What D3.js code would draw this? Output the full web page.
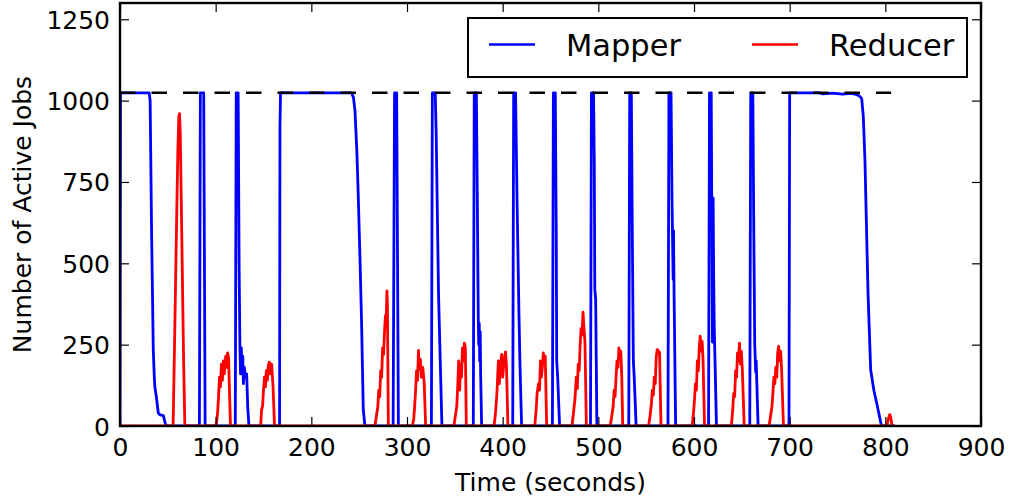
<!DOCTYPE html>
<html>
<head>
<meta charset="utf-8">
<script src="https://cdn.jsdelivr.net/npm/d3@7"></script>
<style>
  body { margin: 0; background: #fff; }
  svg { display: block; font-family: "DejaVu Sans", sans-serif; }
</style>
</head>
<body>
<svg id="chart" width="1013" height="502"></svg>
<script>
// ------------------------------------------------
// data: [time (s), active jobs]
// ------------------------------------------------
var mapper = [
  [0,0],[0.5,1024],[30.5,1024],[31.5,1000],[33,600],[34.8,233],[36,140],[36.6,116],[38,90],[40,40],[42,34],[45.3,32],[48,0],
  [83,0],[84,1024],[87.5,1024],[89,0],
  [120.5,0],[121.5,1024],[123.5,1024],[124.5,500],[125.3,255],[126,160],[126.8,240],[127.5,170],[128.3,215],[129,130],[130,180],[131,150],[132.4,160],[133.5,60],[134.8,0],
  [166.8,0],[167.2,920],[167.8,1024],[242,1024],[244,1010],[245.6,970],[247.5,850],[249,714],[251,500],[252.6,305],[254.3,50],[256,0],
  [285.5,0],[287,1024],[289.2,1024],[291,0],
  [325.5,0],[326.5,1024],[329.5,1024],[330.5,900],[333,400],[336.5,0],
  [369.3,0],[370.3,1024],[372.5,1024],[373.5,700],[374.5,330],[375,250],[375.5,315],[376,200],[376.5,290],[377,160],[378,0],
  [410.5,0],[411.5,1024],[413.5,1024],[415,700],[417,350],[418,200],[419.8,0],
  [452,0],[453,1024],[455,1024],[456,600],[456.5,200],[457.5,150],[459.5,0],
  [491.8,0],[492.8,1024],[495,1024],[495.8,800],[496.3,420],[497.2,390],[498.5,0],
  [531.8,0],[532.8,1024],[534.5,1024],[535.5,600],[536.6,200],[537.5,150],[539.5,0],
  [572.8,0],[573.8,1024],[576,1024],[577,700],[578.2,450],[578.6,600],[579.2,400],[580.8,0],
  [615.2,0],[616.2,1024],[618,1024],[619.3,258],[620,700],[620.6,454],[621.2,300],[623.5,0],
  [658.3,0],[659.3,1024],[661.5,1024],[662.5,600],[663.5,250],[664.5,166],[665,200],[667,0],
  [699.3,0],[700,1024],[730,1024],[735,1021],[745,1023],[755,1020],[765,1022],[770,1018],[773,1014],[775.3,1006],[777,950],[778.7,816],[781.9,408],[784.7,172],[788,110],[791,70],[796,0],
  [810,0]
];

var reducer = [
  [0,0],
  [55.5,0],[57,250],[59,600],[60.5,850],[61.5,950],[62.2,960],[63,900],[64.5,600],[66.5,200],[67.8,0],
  [100.5,0],[102,40],[103,90],[104,150],[105,120],[106,190],[107,140],[108,200],[109,160],[110.5,215],[111.3,180],[112.5,225],[113.5,210],[114.5,100],[115.5,0],
  [147,0],[148,50],[149,60],[150,110],[151,150],[152,120],[153,170],[154,140],[155,185],[156,196],[157,160],[158.5,190],[160,120],[161.5,0],
  [266.5,0],[268,30],[269.5,60],[270.5,110],[271.5,90],[272.5,170],[273.5,150],[274.5,240],[275.5,220],[276.5,290],[277.5,340],[278.3,330],[279,415],[279.5,380],[280.5,0],
  [305.5,0],[307,20],[308,60],[309,110],[310,170],[311,140],[312,232],[313,175],[314,205],[315,150],[316.5,180],[318,130],[319.5,0],
  [349,0],[350.5,30],[352,60],[353,120],[354,200],[355,110],[356,190],[357,150],[358,240],[359,200],[360,255],[361,240],[362,0],
  [391,0],[392.5,40],[394,100],[395.5,200],[396.5,130],[397.5,180],[399,220],[400,150],[401.5,200],[403,228],[404,180],[405.5,0],
  [433.5,0],[435,50],[436,100],[437.5,130],[438.5,110],[439.5,200],[440.5,150],[441.5,180],[442.5,225],[443.5,195],[444.5,215],[446,0],
  [472.5,0],[474,40],[475.5,80],[477,150],[478,115],[479,190],[480,170],[481,250],[482,300],[483,280],[484,350],[485,300],[486,260],[487.5,0],
  [512.5,0],[514,30],[515.5,60],[516.5,110],[517.5,90],[518.5,150],[519.5,200],[520.5,180],[521.5,240],[522.5,210],[523.5,230],[524.5,150],[525.5,0],
  [552.5,0],[554,30],[555.5,70],[556.5,110],[557.5,95],[558.5,150],[559.5,130],[560.5,210],[561.5,235],[563,230],[564,225],[565.5,0],
  [598,0],[599.5,40],[600.5,80],[601.5,130],[602.5,110],[603.5,200],[604.5,170],[605.5,240],[606.5,276],[607.5,230],[608.5,260],[609.5,200],[611,0],
  [639,0],[640.5,50],[641.5,100],[642.5,90],[643.5,170],[644.5,150],[645.5,225],[646.5,200],[647.5,255],[648.5,190],[649.5,230],[650.5,175],[652.5,0],
  [678.5,0],[680,30],[681.5,60],[682.5,100],[683.5,150],[684.5,130],[685.5,180],[686.5,150],[687.5,225],[688.5,245],[689.5,200],[690.5,230],[691.5,180],[693.5,0],
  [801.5,0],[803,20],[804.5,35],[805.5,30],[807,0],
  [810,0]
];

var capacity = 1024;      // dashed reference level
var capacityEnd = 806;    // time where the dashed line stops

var seriesNames = ["Mapper", "Reducer"];
var seriesColors = ["#0000ff", "#ff0000"];
var xTicks = [0, 100, 200, 300, 400, 500, 600, 700, 800, 900];
var yTicks = [0, 250, 500, 750, 1000, 1250];

// ------------------------------------------------
// layout
// ------------------------------------------------
var L = 120, R = 981, T = 3, B = 426;
var svg = d3.select("#chart");

var x = d3.scaleLinear().domain([0, 900]).range([L, R]);
var y = d3.scaleLinear().domain([0, 1300]).range([B, T]);

svg.append("defs").append("clipPath").attr("id", "plotClip")
  .append("rect").attr("x", L).attr("y", T).attr("width", R - L).attr("height", B - T);

var line = d3.line().x(function(d){ return x(d[0]); }).y(function(d){ return y(d[1]); });

var plot = svg.append("g").attr("clip-path", "url(#plotClip)");

[mapper, reducer].forEach(function(s, i){
  plot.append("path")
    .datum(s)
    .attr("d", line)
    .attr("fill", "none")
    .attr("stroke", seriesColors[i])
    .attr("stroke-width", 2.8)
    .attr("stroke-linejoin", "round");
});

// dashed capacity line
plot.append("path")
  .datum([[0, capacity], [capacityEnd, capacity]])
  .attr("d", line)
  .attr("fill", "none")
  .attr("stroke", "#000")
  .attr("stroke-width", 2.5)
  .attr("stroke-dasharray", "15.5,16");

// ------------------------------------------------
// axes (ticks point inward on all four sides)
// ------------------------------------------------
function styleAxis(g){
  g.select(".domain").remove();
  g.selectAll(".tick line").attr("stroke", "#000").attr("stroke-width", 1.2);
  g.selectAll(".tick text").attr("fill", "#000").attr("font-size", 25)
    .attr("font-family", "DejaVu Sans, sans-serif");
}

svg.append("g").attr("transform", "translate(0," + B + ")")
  .call(d3.axisBottom(x).tickValues(xTicks).tickSize(-9).tickPadding(12).tickFormat(d3.format("d")))
  .call(styleAxis)
  .selectAll(".tick text").attr("dy", "0.71em").attr("y", 12);

svg.append("g").attr("transform", "translate(0," + T + ")")
  .call(d3.axisTop(x).tickValues(xTicks).tickSize(-9).tickFormat(""))
  .call(styleAxis);

svg.append("g").attr("transform", "translate(" + L + ",0)")
  .call(d3.axisLeft(y).tickValues(yTicks).tickSize(-9).tickPadding(10).tickFormat(d3.format("d")))
  .call(styleAxis)
  .selectAll(".tick text").attr("dy", "0.36em");

svg.append("g").attr("transform", "translate(" + R + ",0)")
  .call(d3.axisRight(y).tickValues(yTicks).tickSize(-9).tickFormat(""))
  .call(styleAxis);

// frame
svg.append("rect")
  .attr("x", L).attr("y", T).attr("width", R - L).attr("height", B - T)
  .attr("fill", "none").attr("stroke", "#000").attr("stroke-width", 2.4);

// axis titles
svg.append("text")
  .attr("x", (L + R) / 2).attr("y", 491)
  .attr("text-anchor", "middle").attr("font-size", 25)
  .text("Time (seconds)");

svg.append("text")
  .attr("transform", "translate(31," + ((T + B) / 2) + ") rotate(-90)")
  .attr("text-anchor", "middle").attr("font-size", 25)
  .text("Number of Active Jobs");

// ------------------------------------------------
// legend
// ------------------------------------------------
var legend = svg.append("g");
legend.append("rect")
  .attr("x", 468).attr("y", 18).attr("width", 499).attr("height", 59)
  .attr("fill", "#fff").attr("stroke", "#000").attr("stroke-width", 2);

var legendX = [489, 752];
seriesNames.forEach(function(name, i){
  legend.append("line")
    .attr("x1", legendX[i]).attr("x2", legendX[i] + 46)
    .attr("y1", 44.5).attr("y2", 44.5)
    .attr("stroke", seriesColors[i]).attr("stroke-width", 2.5);
  legend.append("text")
    .attr("x", legendX[i] + 77).attr("y", 56)
    .attr("font-size", 30.5)
    .text(name);
});
</script>
</body>
</html>
